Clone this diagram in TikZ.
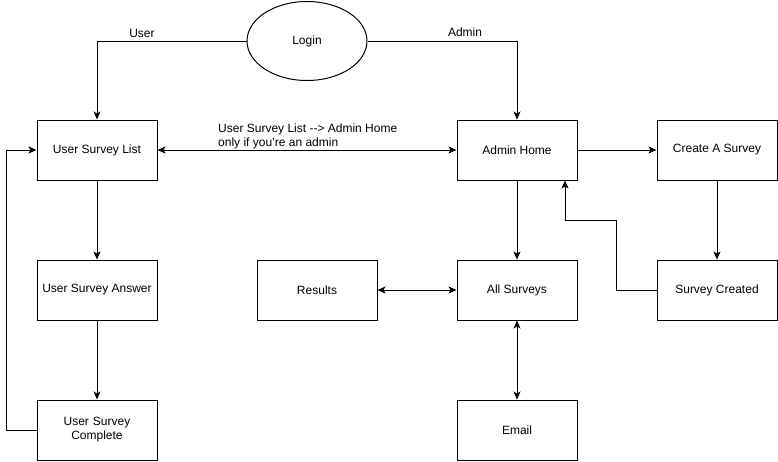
\documentclass[tikz,border=0pt]{standalone}
\usepackage{fontspec}
\setmainfont{Liberation Sans}
\usetikzlibrary{arrows.meta,shapes.geometric}
\tikzset{
  box/.style={draw, line width=1pt, minimum width=120pt, minimum height=60pt, align=center, inner sep=2pt},
  conn/.style={line width=1pt, -{Stealth[length=8pt,width=7pt,inset=2pt]}},
  both/.style={line width=1pt, {Stealth[length=8pt,width=7pt,inset=2pt]}-{Stealth[length=8pt,width=7pt,inset=2pt]}},
}
\begin{document}
\begin{tikzpicture}[x=1pt, y=-1pt, font=\fontsize{12}{14}\selectfont]
\useasboundingbox (0,0) rectangle (778,461);

% Place the nodes
\node[draw, line width=1pt, ellipse, minimum width=120pt, minimum height=79pt] (login) at (307,41) {Login};
\node[box] (userlist) at (97,150) {User Survey List};
\node[box] (useranswer) at (97,290) {User Survey Answer};
\node[box, text width=100pt] (usercomplete) at (97,430) {User Survey\\Complete};
\node[box] (adminhome) at (517,150) {Admin Home};
\node[box] (create) at (717,150) {Create A Survey};
\node[box] (created) at (717,290) {Survey Created};
\node[box] (allsurveys) at (517,290) {All Surveys};
\node[box] (results) at (317,290) {Results};
\node[box] (email) at (517,430) {Email};

% Draw the connectors
\draw[conn] (login.west) -| (userlist.north);
\node (userlbl) at (142,33) {User};
\draw[conn] (login.east) -| (adminhome.north);
\node (adminlbl) at (465,32) {Admin};
\draw[both] (userlist.east) -- (adminhome.west);
\node[anchor=south west, align=left, inner sep=0pt] (onlylbl) at (218,149) {User Survey List {-}{-}> Admin Home\\only if you're an admin};
\draw[conn] (adminhome.east) -- (create.west);
\draw[conn] (create.south) -- (created.north);
\draw[conn] (created.west) -- ++(-40,0) |- (565,220) -- ([xshift=48pt]adminhome.south);
\draw[conn] (adminhome.south) -- (allsurveys.north);
\draw[both] (results.east) -- (allsurveys.west);
\draw[both] (allsurveys.south) -- (email.north);
\draw[conn] (userlist.south) -- (useranswer.north);
\draw[conn] (useranswer.south) -- (usercomplete.north);
\draw[conn] (usercomplete.west) -- ++(-30,0) |- (userlist.west);
\end{tikzpicture}
\end{document}
